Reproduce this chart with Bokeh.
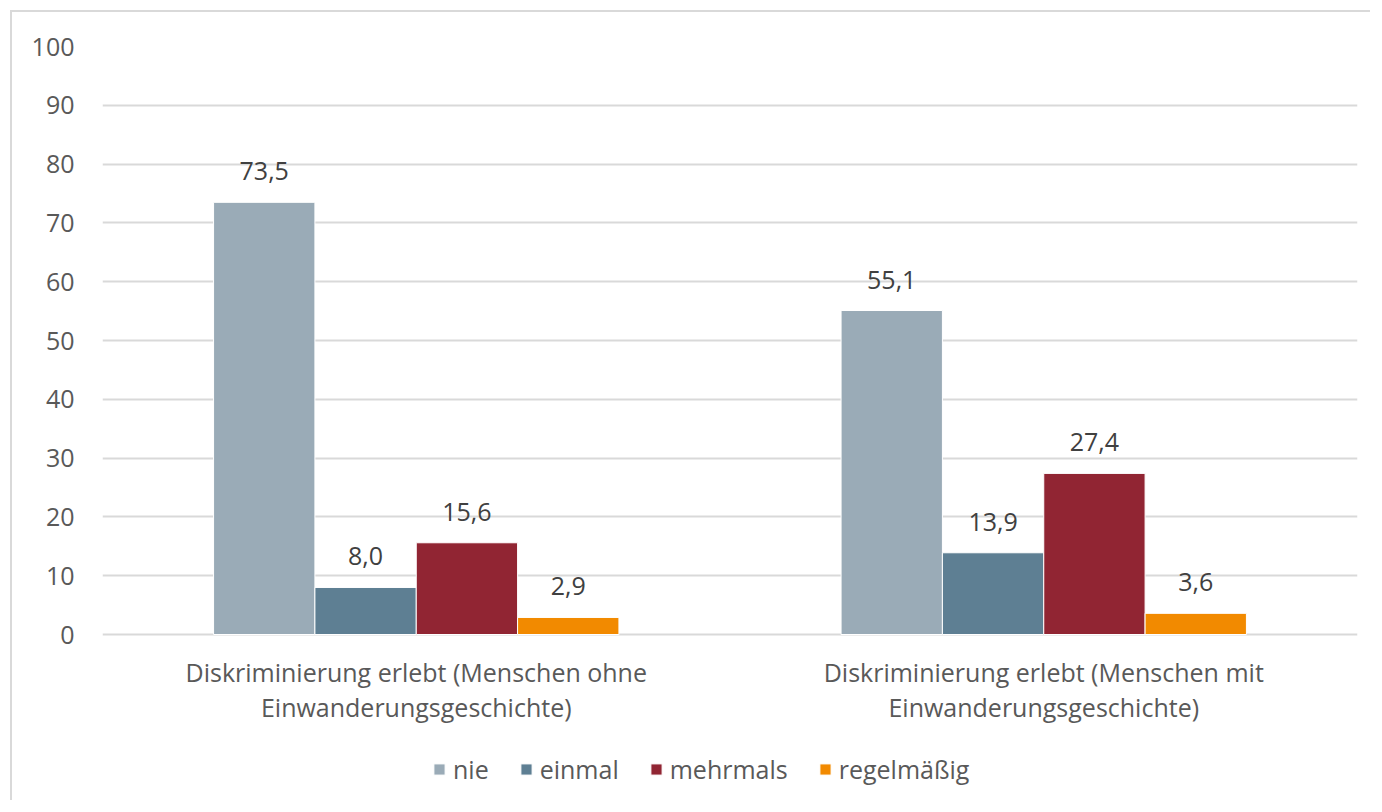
from bokeh.plotting import figure
from bokeh.models import (ColumnDataSource, FactorRange, Range1d, FixedTicker,
                          Legend, LegendItem)
from bokeh.core.properties import value
from bokeh.transform import dodge
from bokeh.embed import file_html
from bokeh.resources import INLINE

# ---- data ----
categories = [
    "Diskriminierung erlebt (Menschen ohne\nEinwanderungsgeschichte)",
    "Diskriminierung erlebt (Menschen mit\nEinwanderungsgeschichte)",
]
series = ["nie", "einmal", "mehrmals", "regelmäßig"]
nie = [73.5, 55.1]
einmal = [8.0, 13.9]
mehrmals = [15.6, 27.4]
regelmaessig = [2.9, 3.6]
y_ticks = [0, 10, 20, 30, 40, 50, 60, 70, 80, 90, 100]

values = [nie, einmal, mehrmals, regelmaessig]
colors = ["#9AABB7", "#5E7F93", "#912533", "#F28A00"]

FONT = "Open Sans"
px_per_unit = 5.88
frame_h = 790 - 34
y_start = 100 - frame_h / px_per_unit

p = figure(
    width=1360, height=790,
    x_range=FactorRange(*categories, range_padding=0),
    y_range=Range1d(y_start, 100),
    output_backend="svg", toolbar_location=None,
    min_border_left=90, min_border_right=15, min_border_top=34, min_border_bottom=0,
    styles={"margin-left": "10px", "margin-top": "10px",
            "border-left": "2px solid #d9d9d9", "border-top": "2px solid #d9d9d9"},
)
p.outline_line_color = None
p.background_fill_color = "white"
p.border_fill_color = "white"

p.xaxis.visible = False
p.xgrid.grid_line_color = None
p.ygrid.grid_line_color = "#d9d9d9"
p.ygrid.grid_line_width = 2
p.yaxis.ticker = FixedTicker(ticks=y_ticks)
p.ygrid.ticker = FixedTicker(ticks=y_ticks)
p.yaxis.axis_line_color = None
p.yaxis.major_tick_line_color = None
p.yaxis.minor_tick_line_color = None
p.yaxis.major_label_text_font = FONT
p.yaxis.major_label_text_font_size = "25px"
p.yaxis.major_label_text_color = "#595959"
p.yaxis.major_label_standoff = 22

bar_w = 0.1615
offsets = [-1.5 * bar_w, -0.5 * bar_w, 0.5 * bar_w, 1.5 * bar_w]
items = []
for name, vals, col, off in zip(series, values, colors, offsets):
    src = ColumnDataSource(dict(
        cat=categories, val=vals,
        lab=[f"{v:.1f}".replace(".", ",") for v in vals]))
    r = p.vbar(x=dodge("cat", off, range=p.x_range), top="val", bottom=0,
               width=bar_w, source=src, fill_color=col, line_color="white",
               line_width=1)
    p.text(x=dodge("cat", off, range=p.x_range), y="val", text="lab", source=src,
           text_font=value(FONT), text_font_size="25px", text_color="#404040",
           text_align="center", text_baseline="middle", y_offset=-31)
    items.append(LegendItem(label=name, renderers=[r]))

# category labels below the baseline
cat_src = ColumnDataSource(dict(cat=categories, y=[-9.35, -9.35]))
p.text(x="cat", y="y", text="cat", source=cat_src,
       text_font=value(FONT), text_font_size="25px", text_color="#595959",
       text_align="center", text_baseline="middle", text_line_height=1.03)

legend = Legend(items=items, orientation="horizontal", location=(330, 16),
                padding=0, margin=0, spacing=30, label_standoff=7,
                glyph_width=14, glyph_height=14,
                label_text_font=FONT, label_text_font_size="25px",
                label_text_color="#595959",
                border_line_color=None, background_fill_alpha=0)
p.add_layout(legend, "center")

open("out.html", "w").write(file_html(p, INLINE))
